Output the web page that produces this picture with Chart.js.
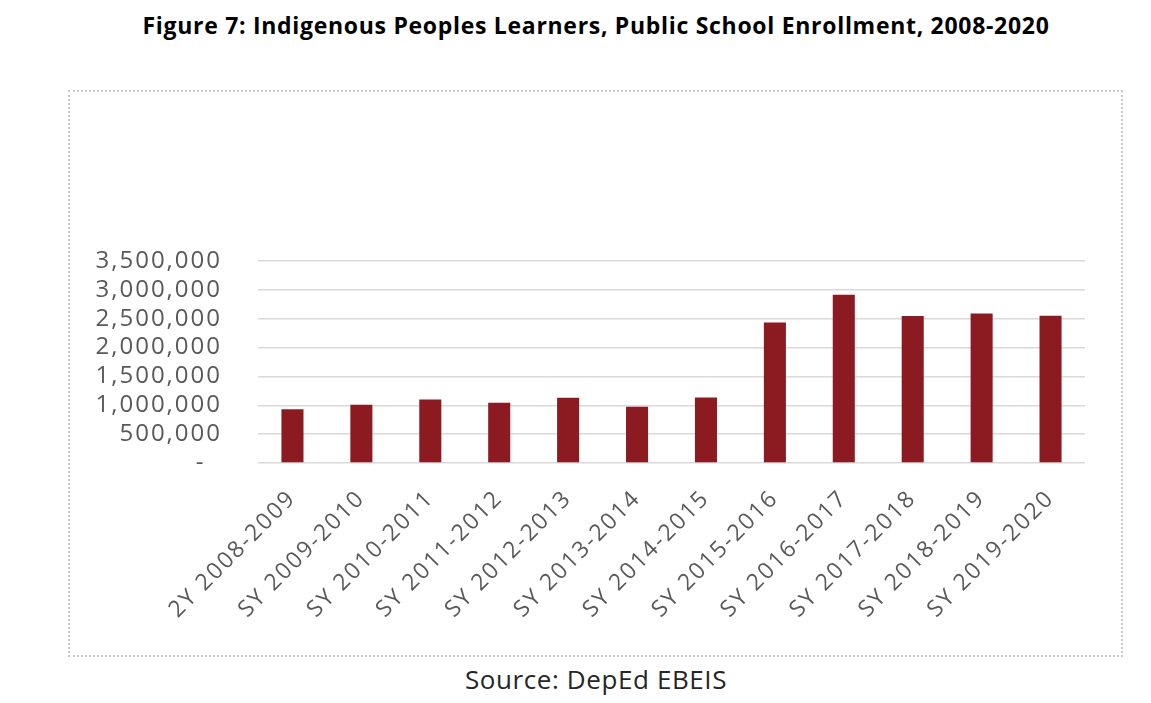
<!DOCTYPE html>
<html>
<head>
<meta charset="utf-8">
<script src="https://cdn.jsdelivr.net/npm/chart.js@4"></script>
<style>
  body { margin: 0; background: #fff; width: 1151px; height: 703px; position: relative; overflow: hidden; }
  #title { position: absolute; left: 0; width: 1192px; top: 9px; text-align: center;
           font: bold 23px "Open Sans", sans-serif; letter-spacing: 0.7px; color: #000; }
  #frame { position: absolute; left: 68px; top: 90px; width: 1055px; height: 567px;
           box-sizing: border-box; border: 2px dotted #c8c8c8; }
  #source { position: absolute; left: 0; width: 1192px; top: 661px; text-align: center;
            font: 26px "Open Sans", sans-serif; letter-spacing: 0.6px; color: #262626; }
</style>
</head>
<body>
<div id="title">Figure 7: Indigenous Peoples Learners, Public School Enrollment, 2008-2020</div>
<div id="frame"><canvas id="bar-chart" width="1051" height="563"></canvas></div>
<div id="source">Source: DepEd EBEIS</div>
<script>
var years = ["2Y 2008-2009", "SY 2009-2010", "SY 2010-2011", "SY 2011-2012", "SY 2012-2013", "SY 2013-2014",
             "SY 2014-2015", "SY 2015-2016", "SY 2016-2017", "SY 2017-2018", "SY 2018-2019", "SY 2019-2020"];
var enrollment = [930000, 1010000, 1100000, 1045000, 1130000, 975000,
                  1135000, 2435000, 2915000, 2545000, 2590000, 2550000];
var yTicks = [0, 500000, 1000000, 1500000, 2000000, 2500000, 3000000, 3500000];

// the source picture has rather wide lettering, so space the canvas text out a bit
var wideText = {
  id: 'wideText',
  beforeUpdate: function (chart) { chart.ctx.letterSpacing = '2px'; },
  beforeDraw: function (chart) { chart.ctx.letterSpacing = '2px'; }
};

new Chart(document.getElementById("bar-chart"), {
    type: 'bar',
    plugins: [wideText],
    data: {
      labels: years,
      datasets: [
        {
          label: "IP learners",
          backgroundColor: "#8b1b21",
          data: enrollment,
          barPercentage: 0.8,
          categoryPercentage: 0.4
        }
      ]
    },
    options: {
      responsive: false,
      animation: false,
      layout: { padding: { top: 169, right: 36, bottom: 0, left: 0 } },
      plugins: { legend: { display: false }, tooltip: { enabled: false } },
      scales: {
        x: {
          grid: { display: false, drawTicks: false },
          border: { display: false },
          ticks: {
            color: '#595959',
            font: { family: 'Open Sans', size: 23 },
            minRotation: 45, maxRotation: 45, autoSkip: false, padding: 22
          },
          afterFit: function (s) { s.height = 192; }
        },
        y: {
          min: yTicks[0],
          max: yTicks[yTicks.length - 1],
          grid: { color: '#d9d9d9', lineWidth: 1.5, drawTicks: false },
          border: { display: false },
          afterBuildTicks: function (s) { s.ticks = yTicks.map(function (v) { return { value: v }; }); },
          ticks: {
            color: '#595959',
            font: { family: 'Open Sans', size: 24 },
            autoSkip: false,
            padding: 36,
            callback: function (v) { return v === 0 ? '-  ' : v.toLocaleString('en-US'); }
          },
          afterFit: function (s) { s.width = 188; }
        }
      }
    }
});
</script>
</body>
</html>
